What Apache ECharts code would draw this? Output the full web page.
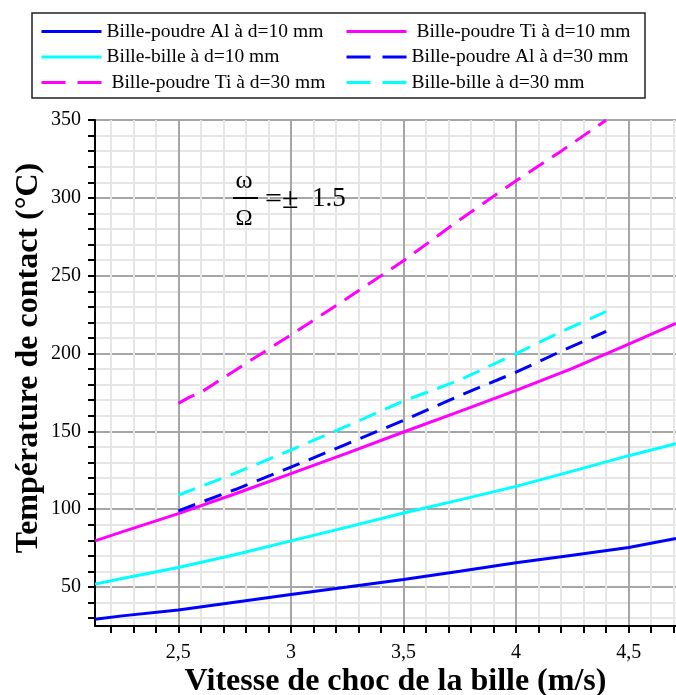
<!DOCTYPE html>
<html>
<head>
<meta charset="utf-8">
<script src="https://cdn.jsdelivr.net/npm/echarts@6/dist/echarts.min.js"></script>
<style>
  html, body { margin: 0; padding: 0; background: #fff; }
  #chart { width: 676px; height: 695px; }
</style>
</head>
<body>
<div id="chart"></div>
<script>
// Contact temperature vs. ball impact speed, ω/Ω = ±1.5
const seriesNames = [
  'Bille-poudre Al à d=10 mm',
  'Bille-poudre Ti à d=10 mm',
  'Bille-bille à d=10 mm',
  'Bille-poudre Al à d=30 mm',
  'Bille-poudre Ti à d=30 mm',
  'Bille-bille à d=30 mm'
];

// impact speed (m/s)
const speedD10 = [2.13, 2.25, 2.5, 2.75, 3, 3.25, 3.5, 3.75, 4, 4.25, 4.5, 4.71];
const speedD30 = [2.5, 2.75, 3, 3.25, 3.5, 3.75, 4, 4.2, 4.4];
const speedTiD30 = [2.5, 2.55, 2.6, 2.75, 3, 3.25, 3.5, 3.75, 4, 4.2, 4.4];

// contact temperature (°C)
const alD10 = [29.3, 31.5, 35.3, 40.3, 45.3, 50, 54.9, 60.2, 65.6, 70.5, 75.4, 81.2];
const tiD10 = [79.7, 85.5, 97.2, 109.8, 122.9, 136, 149.6, 162.8, 176.3, 190.5, 206, 219.4];
const billeD10 = [51.9, 55.5, 62.6, 70.8, 79.7, 88.5, 97.6, 106, 114.7, 124.5, 134.4, 142.1];
const alD30 = [99, 112.5, 127, 142, 157, 173, 188, 201.5, 214.3];
const tiD30 = [168, 172, 175, 189, 212, 235.5, 259.6, 286, 311, 330, 350];
const billeD30 = [109, 123, 138, 153.5, 169.5, 183, 200, 214, 227];

// axis ticks
const xMajorTicks = [2.5, 3, 3.5, 4, 4.5];
const xMinorTicks = [2.2, 2.3, 2.4, 2.5, 2.6, 2.7, 2.8, 2.9, 3, 3.1, 3.2, 3.3, 3.4, 3.5,
  3.6, 3.7, 3.8, 3.9, 4, 4.1, 4.2, 4.3, 4.4, 4.5, 4.6, 4.7];
const yMajorTicks = [50, 100, 150, 200, 250, 300, 350];
const yMinorTicks = [30, 40, 50, 60, 70, 80, 90, 100, 110, 120, 130, 140, 150, 160, 170,
  180, 190, 200, 210, 220, 230, 240, 250, 260, 270, 280, 290, 300, 310, 320, 330, 340, 350];

const X_MIN = 2.13, X_MAX = 4.71, Y_MIN = 25, Y_MAX = 350;

const BLUE = '#0000ff', CYAN = '#00ffff', MAGENTA = '#ff00ff';
const SERIF = '"Liberation Serif", "DejaVu Serif", serif';

function pairs(xs, ys) { return xs.map((x, i) => [x, ys[i]]); }

function lineSeries(name, xs, ys, color, dashed) {
  return {
    name: name,
    type: 'line',
    xAxisIndex: 0,
    yAxisIndex: 0,
    data: pairs(xs, ys),
    symbol: 'none',
    smooth: false,
    clip: true,
    lineStyle: { color: color, width: 3, type: dashed ? [18, 10] : 'solid' },
    itemStyle: { color: color }
  };
}

const series = [
  lineSeries(seriesNames[0], speedD10, alD10, BLUE, false),
  lineSeries(seriesNames[1], speedD10, tiD10, MAGENTA, false),
  lineSeries(seriesNames[2], speedD10, billeD10, CYAN, false),
  lineSeries(seriesNames[3], speedD30, alD30, BLUE, true),
  lineSeries(seriesNames[4], speedTiD30, tiD30, MAGENTA, true),
  lineSeries(seriesNames[5], speedD30, billeD30, CYAN, true)
];

function legendItem(i, dashed) {
  return {
    name: seriesNames[i],
    itemStyle: { opacity: 0 },
    lineStyle: { width: 3, type: dashed ? [24, 12] : 'solid' }
  };
}

const legendBase = {
  orient: 'vertical',
  itemWidth: 60,
  itemHeight: 14,
  itemGap: 0.5,
  padding: 0,
  selectedMode: false,
  itemStyle: { opacity: 0 },
  lineStyle: { width: 3 },
  formatter: n => (n.indexOf('Ti') >= 0 ? ' ' + n : n),
  textStyle: { fontFamily: SERIF, fontSize: 19.5, color: '#000', lineHeight: 25 }
};

const chart = echarts.init(document.getElementById('chart'), null, { renderer: 'canvas' });

chart.setOption({
  backgroundColor: '#fff',
  animation: false,
  grid: { left: 95, right: 0, top: 120, bottom: 69, containLabel: false, outerBoundsMode: 'none' },
  legend: [
    Object.assign({}, legendBase, {
      left: 40, top: 19,
      data: [legendItem(0, false), legendItem(2, false), legendItem(4, true)]
    }),
    Object.assign({}, legendBase, {
      left: 345, top: 19,
      data: [legendItem(1, false), legendItem(3, true), legendItem(5, true)]
    })
  ],
  xAxis: [
    {
      type: 'value', min: X_MIN, max: X_MAX,
      name: 'Vitesse de choc de la bille (m/s)',
      nameLocation: 'middle', nameGap: 40,
      nameTextStyle: { fontFamily: SERIF, fontSize: 32, fontWeight: 'bold', color: '#000', verticalAlign: 'top', padding: [0, 0, 0, 20] },
      axisLine: { show: true, onZero: false, lineStyle: { color: '#000', width: 2 } },
      axisTick: { show: true, inside: false, length: 7, customValues: xMinorTicks, lineStyle: { color: '#000', width: 2 } },
      axisLabel: { show: false },
      splitLine: { show: true, lineStyle: { color: '#e6e6e6', width: 2 } }
    },
    {
      type: 'value', min: X_MIN, max: X_MAX, position: 'bottom',
      axisLine: { show: false },
      axisTick: { show: false, customValues: xMajorTicks },
      axisLabel: {
        show: true, customValues: xMajorTicks, margin: 17,
        fontFamily: SERIF, fontSize: 20, color: '#000',
        formatter: v => String(v).replace('.', ',')
      },
      splitLine: { show: true, lineStyle: { color: '#a6a6a6', width: 2 } }
    }
  ],
  yAxis: [
    {
      type: 'value', min: Y_MIN, max: Y_MAX,
      name: 'Température de contact (°C)',
      nameLocation: 'middle', nameGap: 50,
      nameTextStyle: { fontFamily: SERIF, fontSize: 32, fontWeight: 'bold', color: '#000', padding: [0, 0, 0, 30] },
      axisLine: { show: true, onZero: false, lineStyle: { color: '#000', width: 2 } },
      axisTick: { show: true, inside: false, length: 7, customValues: yMinorTicks, lineStyle: { color: '#000', width: 2 } },
      axisLabel: { show: false },
      splitLine: { show: true, lineStyle: { color: '#e6e6e6', width: 2 } }
    },
    {
      type: 'value', min: Y_MIN, max: Y_MAX, position: 'left',
      axisLine: { show: false },
      axisTick: { show: false, customValues: yMajorTicks },
      axisLabel: {
        show: true, customValues: yMajorTicks, margin: 14,
        fontFamily: SERIF, fontSize: 20, color: '#000'
      },
      splitLine: { show: true, lineStyle: { color: '#a6a6a6', width: 2 } }
    }
  ],
  series: series,
  graphic: [
    // legend frame
    {
      type: 'rect', x: 32, y: 13, z: 100,
      shape: { x: 0, y: 0, width: 613, height: 85 },
      style: { fill: 'none', stroke: '#222', lineWidth: 1.5 }
    },
    // ω/Ω = ± 1.5
    {
      type: 'group', x: 232, y: 172, z: 100,
      children: [
        { type: 'text', z: 100, x: 12, y: 9, style: { text: 'ω', fontSize: 26, fontFamily: SERIF, fill: '#000', align: 'center', verticalAlign: 'middle' } },
        { type: 'rect', z: 100, shape: { x: 1, y: 25, width: 25, height: 2 }, style: { fill: '#000' } },
        { type: 'text', z: 100, x: 12, y: 47, style: { text: 'Ω', fontSize: 23, fontFamily: SERIF, fill: '#000', align: 'center', verticalAlign: 'middle' } },
        { type: 'text', z: 100, x: 33, y: 28, style: { text: '=±', fontSize: 30, fontFamily: SERIF, fill: '#000', align: 'left', verticalAlign: 'middle' } },
        { type: 'text', z: 100, x: 80, y: 27, style: { text: '1.5', fontSize: 27, fontFamily: SERIF, fill: '#000', align: 'left', verticalAlign: 'middle' } }
      ]
    }
  ]
});
</script>
</body>
</html>
